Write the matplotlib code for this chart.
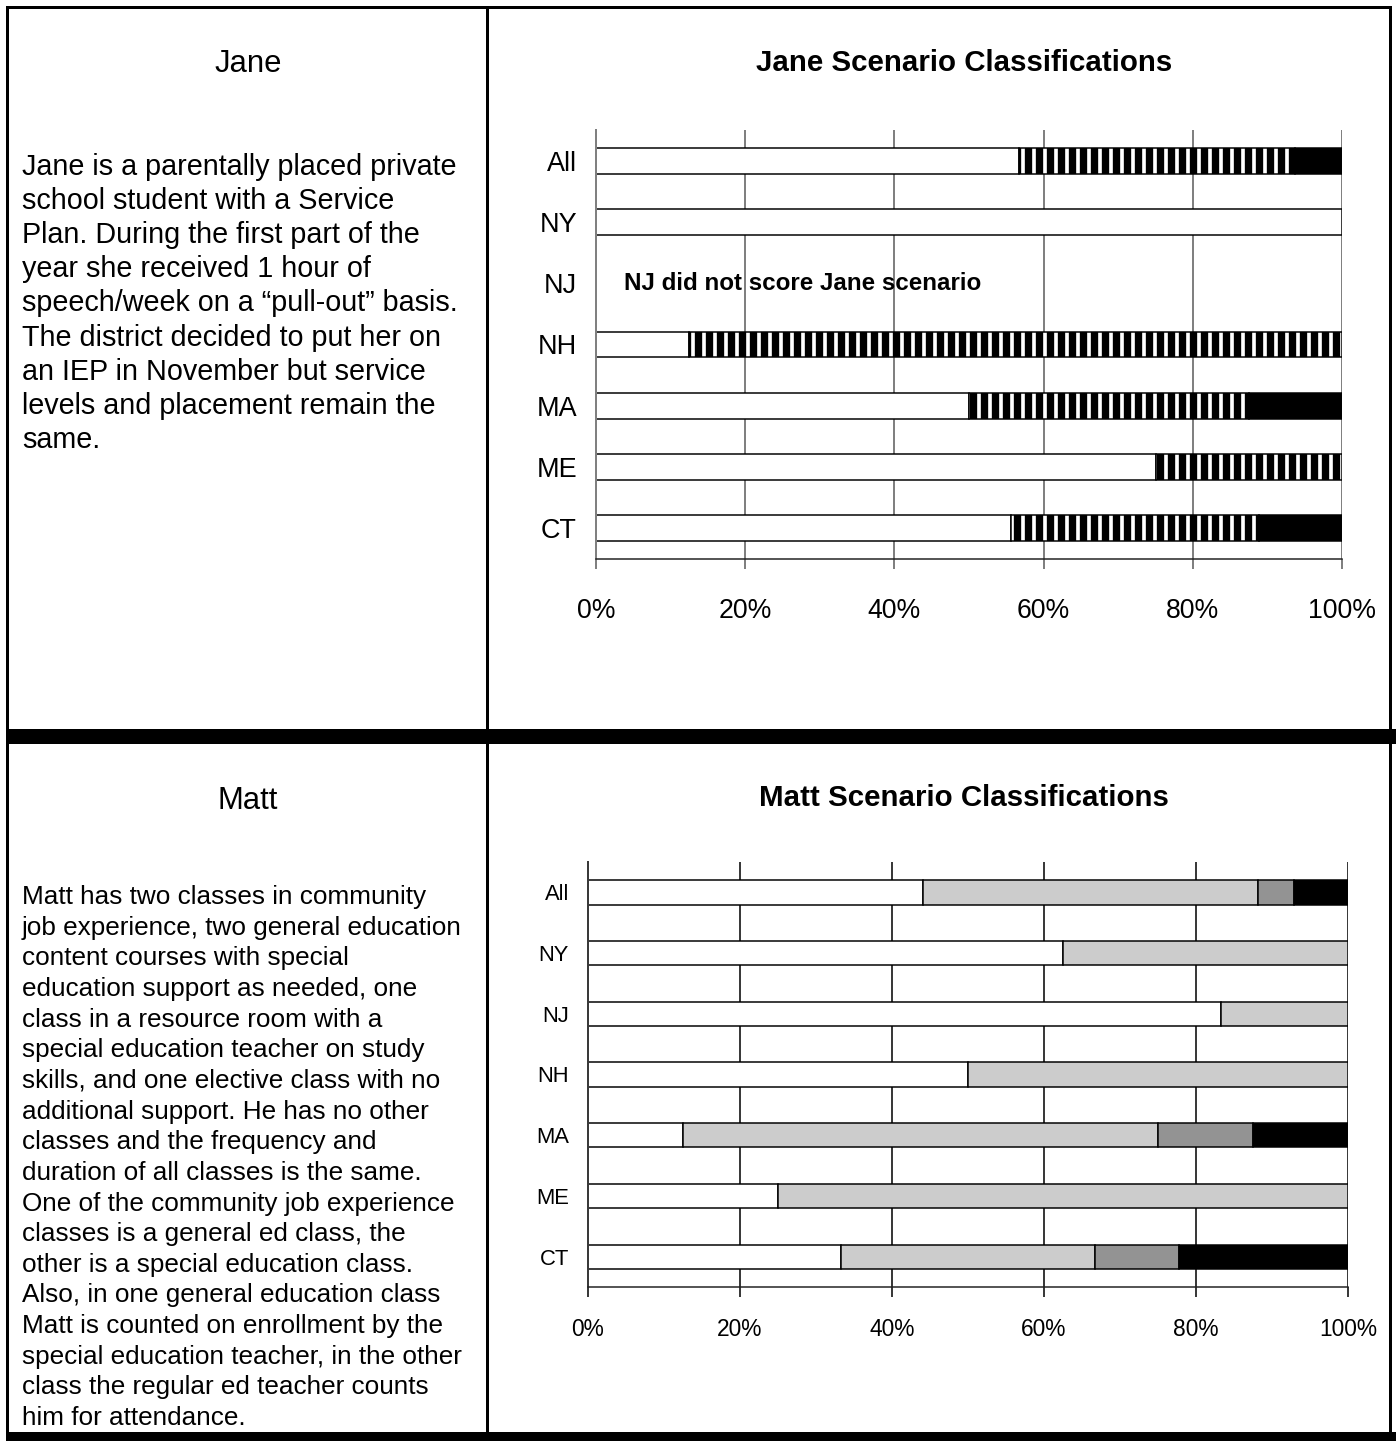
import matplotlib
matplotlib.use("Agg")
import matplotlib.pyplot as plt
from matplotlib.patches import Rectangle
import numpy as np

plt.rcParams['font.family'] = ['Liberation Sans', 'DejaVu Sans']
plt.rcParams['hatch.linewidth'] = 4.0

W, H = 1396, 1441
DPI = 132

# ---- data ----
states = ["All", "NY", "NJ", "NH", "MA", "ME", "CT"]

jane_white = [56.7, 100.0, 0.0, 12.5, 50.0, 75.0, 55.6]
jane_hatch = [37.0, 0.0, 0.0, 87.5, 37.5, 25.0, 33.3]
jane_black = [6.3, 0.0, 0.0, 0.0, 12.5, 0.0, 11.1]

matt_white = [44.1, 62.5, 83.3, 50.0, 12.5, 25.0, 33.3]
matt_light = [44.1, 37.5, 16.7, 50.0, 62.5, 75.0, 33.4]
matt_mid = [4.7, 0.0, 0.0, 0.0, 12.5, 0.0, 11.1]
matt_black = [7.1, 0.0, 0.0, 0.0, 12.5, 0.0, 22.2]

pct_ticks = [0, 20, 40, 60, 80, 100]
pct_labels = ["0%", "20%", "40%", "60%", "80%", "100%"]

jane_lines = [
    "Jane is a parentally placed private",
    "school student with a Service",
    "Plan. During the first part of the",
    "year she received 1 hour of",
    "speech/week on a \u201cpull-out\u201d basis.",
    "The district decided to put her on",
    "an IEP in November but service",
    "levels and placement remain the",
    "same.",
]
matt_lines = [
    "Matt has two classes in community",
    "job experience, two general education",
    "content courses with special",
    "education support as needed, one",
    "class in a resource room with a",
    "special education teacher on study",
    "skills, and one elective class with no",
    "additional support. He has no other",
    "classes and the frequency and",
    "duration of all classes is the same.",
    "One of the community job experience",
    "classes is a general ed class, the",
    "other is a special education class.",
    "Also, in one general education class",
    "Matt is counted on enrollment by the",
    "special education teacher, in the other",
    "class the regular ed teacher counts",
    "him for attendance.",
]


def pt(px):
    return px * 72.0 / DPI


def fx(px):
    return px / W


def fy(py):
    return 1 - py / H


fig = plt.figure(figsize=(W / DPI, H / DPI), dpi=DPI)

# table frame
def block(x0, y0, x1, y1):
    fig.patches.append(Rectangle((fx(x0), fy(y1)), (x1 - x0) / W, (y1 - y0) / H,
                                 transform=fig.transFigure, color="black", lw=0))

block(6, 6, 1392, 9)
block(6, 6, 9, 1441)
block(1389, 6, 1392, 1441)
block(486, 6, 489, 1441)
block(6, 729, 1396, 744)
block(6, 1432, 1396, 1441)

# left column text
fig.text(fx(248), fy(64), "Jane", ha="center", va="center", fontsize=pt(31))
for i, line in enumerate(jane_lines):
    fig.text(fx(22), fy(167 + i * 34.1), line, ha="left", va="center", fontsize=pt(28.8))

fig.text(fx(248), fy(801), "Matt", ha="center", va="center", fontsize=pt(31))
for i, line in enumerate(matt_lines):
    fig.text(fx(22), fy(897 + i * 30.65), line, ha="left", va="center", fontsize=pt(26.2))


def setup_axes(ax, gridcolor, tick_px, label_px, xpad_px):
    ax.set_xlim(0, 100)
    ax.set_ylim(len(states) - 0.5, -0.5)
    ax.set_yticks(np.arange(len(states)))
    ax.set_yticklabels(states, fontsize=pt(label_px))
    ax.set_xticks(pct_ticks)
    ax.set_xticklabels(pct_labels, fontsize=pt(tick_px))
    ax.tick_params(axis="y", length=0, pad=pt(19))
    ax.tick_params(axis="x", length=pt(10), width=pt(2), color=gridcolor,
                   direction="out", pad=pt(xpad_px))
    for s in ["top", "right"]:
        ax.spines[s].set_visible(False)
    ax.spines["left"].set_color(gridcolor)
    ax.spines["left"].set_linewidth(pt(2))
    ax.spines["bottom"].set_color("#202020")
    ax.spines["bottom"].set_linewidth(pt(1.5))
    ax.set_axisbelow(True)
    ax.grid(axis="x", color=gridcolor, linewidth=pt(2))
    ax.set_facecolor("none")


# Jane chart
axj = fig.add_axes([fx(596), fy(559), (1342 - 596) / W, (559 - 130) / H])
y = np.arange(len(states))
jw = np.array(jane_white)
jh = np.array(jane_hatch)
jb = np.array(jane_black)
bh = 0.42
lw = pt(1.5)
mask = jw > 0
axj.barh(y[mask], jw[mask], height=bh, color="white", edgecolor="black", linewidth=lw)
mask = jh > 0
axj.barh(y[mask], jh[mask], left=jw[mask], height=bh, color="white", hatch="||",
         edgecolor="black", linewidth=lw)
mask = jb > 0
axj.barh(y[mask], jb[mask], left=(jw + jh)[mask], height=bh, color="black",
         edgecolor="black", linewidth=lw)
setup_axes(axj, "#808080", 26.6, 27, 29)
axj.text(3.8, 2, "NJ did not score Jane scenario", ha="left", va="center",
         fontsize=pt(24.2), fontweight="bold")
fig.text(fx(964), fy(63), "Jane Scenario Classifications", ha="center", va="center",
         fontsize=pt(29.5), fontweight="bold")

# Matt chart
axm = fig.add_axes([fx(588), fy(1287), (1348 - 588) / W, (1287 - 862) / H])
mw = np.array(matt_white)
ml = np.array(matt_light)
mm = np.array(matt_mid)
mb = np.array(matt_black)
bh = 0.40
segs = [(mw, "white"), (ml, "#cccccc"), (mm, "#939393"), (mb, "black")]
left = np.zeros(len(states))
for vals, col in segs:
    mask = vals > 0
    axm.barh(y[mask], vals[mask], left=left[mask], height=bh, color=col,
             edgecolor="black", linewidth=lw)
    left = left + vals
setup_axes(axm, "#3a3a3a", 22.7, 22, 21)
fig.text(fx(964), fy(798), "Matt Scenario Classifications", ha="center", va="center",
         fontsize=pt(29.5), fontweight="bold")

fig.savefig("out.png", dpi=DPI)
